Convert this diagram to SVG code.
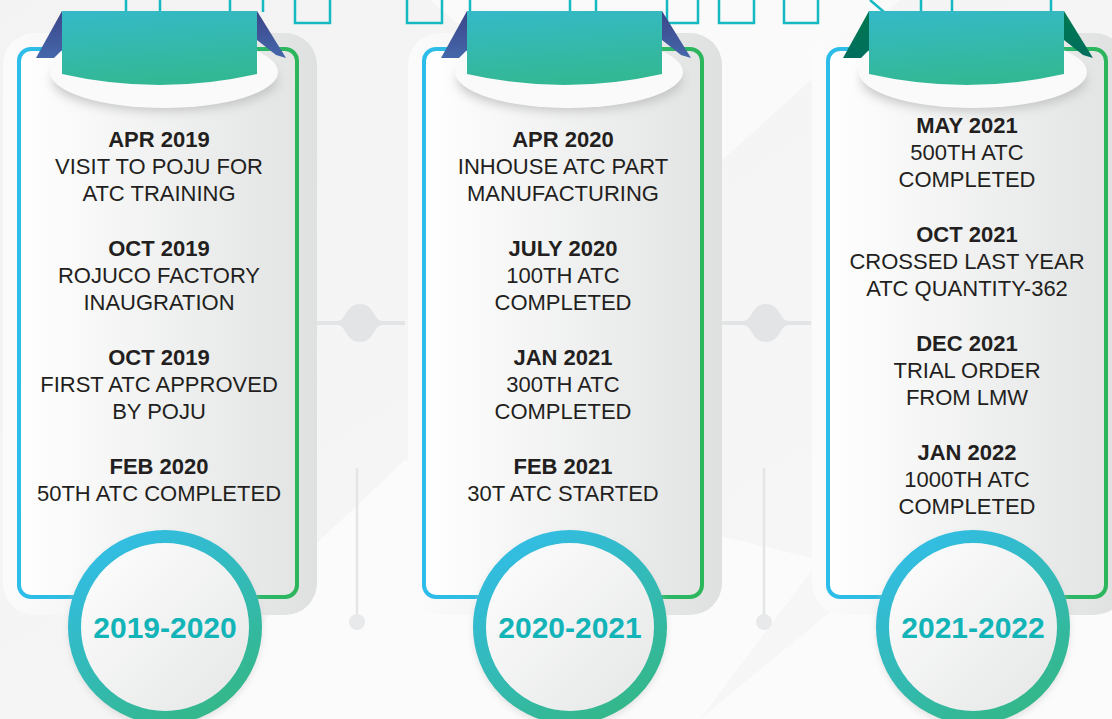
<svg xmlns="http://www.w3.org/2000/svg" width="1112" height="719" viewBox="0 0 1112 719">
<defs>
<linearGradient id="bg" x1="0" y1="0" x2="1" y2="1"><stop offset="0" stop-color="#f3f3f3"/><stop offset="1" stop-color="#f7f7f7"/></linearGradient>
<linearGradient id="shadowG" x1="0" y1="0" x2="1" y2="0"><stop offset="0" stop-color="#fbfbfb"/><stop offset="0.5" stop-color="#f0f0f0"/><stop offset="1" stop-color="#dfe0e0"/></linearGradient>
<linearGradient id="cardFill" x1="0" y1="0" x2="1" y2="0"><stop offset="0" stop-color="#ffffff"/><stop offset="1" stop-color="#e3e4e4"/></linearGradient>
<linearGradient id="cardStroke" x1="0" y1="0" x2="1" y2="0"><stop offset="0" stop-color="#2dbdea"/><stop offset="0.45" stop-color="#2fbad0"/><stop offset="0.55" stop-color="#2eb98a"/><stop offset="1" stop-color="#2bb65c"/></linearGradient>
<linearGradient id="ribbonG" x1="0" y1="0" x2="0.2" y2="1"><stop offset="0" stop-color="#35b9c8"/><stop offset="1" stop-color="#33b895"/></linearGradient>
<linearGradient id="foldBlue" x1="0" y1="0" x2="0" y2="1"><stop offset="0" stop-color="#3b4588"/><stop offset="1" stop-color="#4567ab"/></linearGradient>
<linearGradient id="foldGreen" x1="0" y1="0" x2="0" y2="1"><stop offset="0" stop-color="#00784f"/><stop offset="1" stop-color="#006e5e"/></linearGradient>
<linearGradient id="ringG" x1="0.2" y1="0" x2="0.8" y2="1"><stop offset="0" stop-color="#32bde6"/><stop offset="1" stop-color="#34b786"/></linearGradient>
<linearGradient id="innerG" x1="0" y1="0" x2="1" y2="1"><stop offset="0" stop-color="#ffffff"/><stop offset="1" stop-color="#e4e5e5"/></linearGradient>
<filter id="blur" x="-20%" y="-40%" width="140%" height="180%"><feGaussianBlur stdDeviation="6"/></filter>
<filter id="blurS" x="-20%" y="-20%" width="140%" height="140%"><feGaussianBlur stdDeviation="3"/></filter>
<style>
.t{font-family:"Liberation Sans",Arial,sans-serif;font-size:22px;fill:#231f20;text-anchor:middle}
.b{font-weight:700}
.yr{font-family:"Liberation Sans",Arial,sans-serif;font-size:30px;font-weight:700;fill:#12b4b8;text-anchor:middle}
.frag{fill:none;stroke:#14b9c1;stroke-width:2.5}
.conn{fill:#e3e4e6}
.vline{stroke:#e4e5e7;stroke-width:2.5}
</style>
</defs>
<rect width="1112" height="719" fill="url(#bg)"/>
<polygon points="405,460 317,543 200,719 700,719 820,560" fill="#ffffff" opacity="0.6"/>
<polygon points="430,0 900,0 700,180 560,110" fill="#ffffff" opacity="0.5"/>
<polygon points="700,719 1112,380 1112,719" fill="#ffffff" opacity="0.5"/>

<g id="title-fragments">
<path class="frag" d="M126,0V12M160,0V12M230,0V12M263,0V12"/>
<path class="frag" d="M295,0V23H330V0"/>
<path class="frag" d="M407,0V23H442V0"/>
<path class="frag" d="M470,0V12M570,0V12M596,0V12"/>
<path class="frag" d="M667,0V23H698V0"/>
<path class="frag" d="M719,0V23H754V0"/>
<path class="frag" d="M784,0V23H818V0"/>
<path class="frag" d="M870,0L884,12M921,0V12M952,0V12M1051,0V12"/>
</g>

<g id="connectors">
<path class="conn" d="M316,321H337C347,321 345,304 360,304C375,304 373,321 383,321H405V325H383C373,325 375,342 360,342C345,342 347,325 337,325H316Z"/>
<path class="conn" d="M722,321H743C753,321 751,304 766,304C781,304 779,321 789,321H811V325H789C779,325 781,342 766,342C751,342 753,325 743,325H722Z"/>
<line class="vline" x1="357" y1="468" x2="357" y2="622"/>
<circle cx="357" cy="622" r="8" fill="#e8e9ea"/>
<line class="vline" x1="764" y1="468" x2="764" y2="622"/>
<circle cx="764" cy="622" r="8" fill="#e8e9ea"/>
</g>

<g id="card-2019">
<rect x="3" y="33" width="314" height="582" rx="32" fill="url(#shadowG)"/>
<rect x="19" y="49" width="278" height="548" rx="12" fill="url(#cardFill)" stroke="url(#cardStroke)" stroke-width="4"/>
<ellipse cx="165" cy="80" rx="112" ry="30" fill="#bfc0c0" filter="url(#blur)"/>
<ellipse cx="164" cy="72" rx="114" ry="36" fill="#fafafa"/>
<polygon points="62,11 36,58 54,58 62,50" fill="url(#foldBlue)"/>
<polygon points="257,11 286,58 276,55 257,40" fill="url(#foldBlue)"/>
<path d="M62,11H257V74Q159.5,96 62,74Z" fill="url(#ribbonG)"/>
<text class="t b" x="159" y="147">APR 2019</text>
<text class="t" x="159" y="174">VISIT TO POJU FOR</text>
<text class="t" x="159" y="201">ATC TRAINING</text>
<text class="t b" x="159" y="256">OCT 2019</text>
<text class="t" x="159" y="283">ROJUCO FACTORY</text>
<text class="t" x="159" y="310">INAUGRATION</text>
<text class="t b" x="159" y="365">OCT 2019</text>
<text class="t" x="159" y="392">FIRST ATC APPROVED</text>
<text class="t" x="159" y="419">BY POJU</text>
<text class="t b" x="159" y="474">FEB 2020</text>
<text class="t" x="159" y="501">50TH ATC COMPLETED</text>
<circle cx="165" cy="630" r="97" fill="#c8c9c9" filter="url(#blurS)" opacity="0.5"/>
<circle cx="165" cy="627" r="90.5" fill="url(#innerG)" stroke="url(#ringG)" stroke-width="13"/>
<text class="yr" x="165" y="638">2019-2020</text>
</g>

<g id="card-2020">
<rect x="408" y="33" width="314" height="582" rx="32" fill="url(#shadowG)"/>
<rect x="424" y="49" width="278" height="548" rx="12" fill="url(#cardFill)" stroke="url(#cardStroke)" stroke-width="4"/>
<ellipse cx="570" cy="80" rx="112" ry="30" fill="#bfc0c0" filter="url(#blur)"/>
<ellipse cx="569" cy="72" rx="114" ry="36" fill="#fafafa"/>
<polygon points="467,11 441,58 459,58 467,50" fill="url(#foldBlue)"/>
<polygon points="662,11 691,58 681,55 662,40" fill="url(#foldBlue)"/>
<path d="M467,11H662V74Q564.5,96 467,74Z" fill="url(#ribbonG)"/>
<text class="t b" x="563" y="147">APR 2020</text>
<text class="t" x="563" y="174">INHOUSE ATC PART</text>
<text class="t" x="563" y="201">MANUFACTURING</text>
<text class="t b" x="563" y="256">JULY 2020</text>
<text class="t" x="563" y="283">100TH ATC</text>
<text class="t" x="563" y="310">COMPLETED</text>
<text class="t b" x="563" y="365">JAN 2021</text>
<text class="t" x="563" y="392">300TH ATC</text>
<text class="t" x="563" y="419">COMPLETED</text>
<text class="t b" x="563" y="474">FEB 2021</text>
<text class="t" x="563" y="501">30T ATC STARTED</text>
<circle cx="570" cy="630" r="97" fill="#c8c9c9" filter="url(#blurS)" opacity="0.5"/>
<circle cx="570" cy="627" r="90.5" fill="url(#innerG)" stroke="url(#ringG)" stroke-width="13"/>
<text class="yr" x="570" y="638">2020-2021</text>
</g>

<g id="card-2021">
<rect x="812" y="33" width="314" height="582" rx="32" fill="url(#shadowG)"/>
<rect x="828" y="49" width="278" height="548" rx="12" fill="url(#cardFill)" stroke="url(#cardStroke)" stroke-width="4"/>
<ellipse cx="974" cy="80" rx="112" ry="30" fill="#bfc0c0" filter="url(#blur)"/>
<ellipse cx="973" cy="72" rx="114" ry="36" fill="#fafafa"/>
<polygon points="869,11 843,58 861,58 869,50" fill="url(#foldGreen)"/>
<polygon points="1064,11 1093,58 1083,55 1064,40" fill="url(#foldGreen)"/>
<path d="M869,11H1064V74Q966.5,96 869,74Z" fill="url(#ribbonG)"/>
<text class="t b" x="967" y="133">MAY 2021</text>
<text class="t" x="967" y="160">500TH ATC</text>
<text class="t" x="967" y="187">COMPLETED</text>
<text class="t b" x="967" y="242">OCT 2021</text>
<text class="t" x="967" y="269">CROSSED LAST YEAR</text>
<text class="t" x="967" y="296">ATC QUANTITY-362</text>
<text class="t b" x="967" y="351">DEC 2021</text>
<text class="t" x="967" y="378">TRIAL ORDER</text>
<text class="t" x="967" y="405">FROM LMW</text>
<text class="t b" x="967" y="460">JAN 2022</text>
<text class="t" x="967" y="487">1000TH ATC</text>
<text class="t" x="967" y="514">COMPLETED</text>
<circle cx="973" cy="630" r="97" fill="#c8c9c9" filter="url(#blurS)" opacity="0.5"/>
<circle cx="973" cy="627" r="90.5" fill="url(#innerG)" stroke="url(#ringG)" stroke-width="13"/>
<text class="yr" x="973" y="638">2021-2022</text>
</g>
</svg>
